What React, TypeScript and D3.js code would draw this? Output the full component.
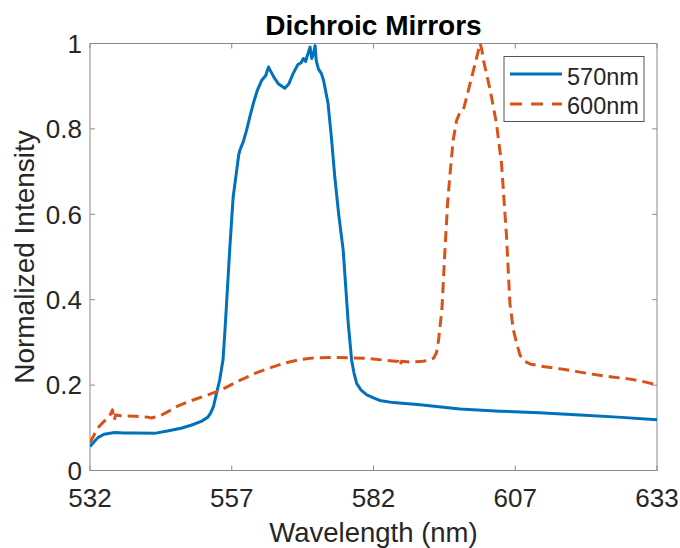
import React from "react";
import * as d3 from "d3";

// wavelength (nm) and normalized intensity
const blueWl = [532, 533.4, 534.5, 536.4, 538, 540, 543.5, 546, 548.2, 550, 551.8, 553, 553.5, 554, 554.4, 555.1, 555.7, 556.05, 556.5, 556.9, 557.5, 558.1, 558.5, 558.7, 559.3, 559.9, 560.5, 561.1, 561.8, 562.3, 562.6, 563.3, 563.8, 564.1, 564.8, 565.6, 566.7, 567.4, 568.2, 569, 569.6, 570, 570.4, 570.8, 571.2, 571.5, 571.8, 572.1, 572.3, 572.7, 573.2, 573.6, 574.4, 575, 575.6, 576.3, 577.1, 578, 578.6, 579, 579.5, 580.3, 581.3, 582.5, 583.6, 586, 590.8, 597.9, 605, 612, 619.3, 626, 633];
const blueVal = [0.056, 0.077, 0.085, 0.089, 0.088, 0.088, 0.087, 0.093, 0.099, 0.106, 0.115, 0.125, 0.135, 0.15, 0.173, 0.212, 0.26, 0.33, 0.43, 0.52, 0.64, 0.7, 0.74, 0.75, 0.77, 0.797, 0.83, 0.86, 0.89, 0.905, 0.914, 0.925, 0.945, 0.937, 0.92, 0.905, 0.895, 0.905, 0.93, 0.95, 0.955, 0.965, 0.958, 0.975, 0.992, 0.965, 0.975, 0.995, 0.96, 0.94, 0.93, 0.914, 0.86, 0.78, 0.688, 0.6, 0.516, 0.345, 0.259, 0.23, 0.204, 0.188, 0.177, 0.17, 0.164, 0.159, 0.154, 0.144, 0.139, 0.135, 0.13, 0.125, 0.119];

const orangeWl = [532, 533.4, 534.5, 535.5, 536, 536.3, 536.6, 537.5, 540, 542.3, 542.9, 544.5, 545.9, 547.5, 549.5, 551, 553, 555, 556.6, 558, 559.5, 561.5, 563.5, 566.5, 569.4, 572, 575.3, 578, 581.3, 584, 586.9, 587.2, 587.5, 589, 590.8, 592.3, 593.2, 593.7, 594.1, 594.7, 595.2, 595.7, 596.1, 596.7, 597.3, 597.8, 598.5, 599.4, 600.3, 601.2, 601.5, 601.8, 602.1, 603.3, 604.4, 605.3, 606.2, 606.8, 607.4, 608, 608.6, 609.5, 610.5, 613, 616.3, 619, 622.2, 625, 628.2, 631, 633];
const orangeVal = [0.065, 0.1, 0.115, 0.128, 0.142, 0.118, 0.13, 0.128, 0.127, 0.125, 0.123, 0.128, 0.138, 0.15, 0.161, 0.168, 0.177, 0.187, 0.197, 0.207, 0.216, 0.228, 0.238, 0.251, 0.26, 0.264, 0.265, 0.264, 0.263, 0.259, 0.255, 0.245, 0.256, 0.254, 0.255, 0.258, 0.263, 0.275, 0.306, 0.38, 0.509, 0.626, 0.69, 0.774, 0.82, 0.835, 0.844, 0.89, 0.937, 0.984, 1.0, 0.985, 0.96, 0.89, 0.813, 0.72, 0.547, 0.392, 0.33, 0.298, 0.27, 0.255, 0.249, 0.243, 0.237, 0.231, 0.224, 0.219, 0.214, 0.207, 0.2];

const xTickValues = [532, 557.25, 582.5, 607.75, 633];
const xTickLabels = ["532", "557", "582", "607", "633"];
const yTickValues = [0, 0.2, 0.4, 0.6, 0.8, 1];
const yTickLabels = ["0", "0.2", "0.4", "0.6", "0.8", "1"];

const seriesNames = ["570nm", "600nm"];
const seriesColors = ["#0072BD", "#D95319"];

const W = 680;
const H = 548;
const margin = { top: 43.5, right: 23, bottom: 77.5, left: 90 };
const font = "'Liberation Sans', Arial, Helvetica, sans-serif";

export default function App() {
  const x = d3.scaleLinear().domain([532, 633]).range([margin.left, W - margin.right]);
  const y = d3.scaleLinear().domain([0, 1]).range([H - margin.bottom, margin.top]);

  const line = d3
    .line<[number, number]>()
    .x((d) => x(d[0]))
    .y((d) => y(d[1]));

  const blue = blueWl.map((w, i) => [w, blueVal[i]] as [number, number]);
  const orange = orangeWl.map((w, i) => [w, orangeVal[i]] as [number, number]);

  const x0 = margin.left;
  const x1 = W - margin.right;
  const y0 = H - margin.bottom;
  const y1 = margin.top;
  const tick = 5;
  const axisColor = "#8a8a8a";
  const textColor = "#262626";

  return (
    <svg
      width={W}
      height={H}
      style={{ position: "fixed", left: 0, top: 0, background: "#fff" }}
      fontFamily={font}
    >
      <defs>
        <clipPath id="plot">
          <rect x={x0} y={y1 - 2} width={x1 - x0} height={y0 - y1 + 2} />
        </clipPath>
      </defs>

      {/* box */}
      <rect x={x0} y={y1} width={x1 - x0} height={y0 - y1} fill="none" stroke={axisColor} strokeWidth={1} />

      {/* x ticks */}
      {xTickValues.map((t, i) => (
        <g key={"xt" + i}>
          <line x1={x(t)} x2={x(t)} y1={y0} y2={y0 - tick} stroke={axisColor} />
          <line x1={x(t)} x2={x(t)} y1={y1} y2={y1 + tick} stroke={axisColor} />
          <text x={x(t)} y={507} textAnchor="middle" fontSize={26} fill={textColor}>
            {xTickLabels[i]}
          </text>
        </g>
      ))}

      {/* y ticks */}
      {yTickValues.map((t, i) => (
        <g key={"yt" + i}>
          <line x1={x0} x2={x0 + tick} y1={y(t)} y2={y(t)} stroke={axisColor} />
          <line x1={x1} x2={x1 - tick} y1={y(t)} y2={y(t)} stroke={axisColor} />
          <text x={82} y={y(t)} dy="0.36em" textAnchor="end" fontSize={26} fill={textColor}>
            {yTickLabels[i]}
          </text>
        </g>
      ))}

      {/* data */}
      <g clipPath="url(#plot)">
        <path d={line(blue) || ""} fill="none" stroke={seriesColors[0]} strokeWidth={3} strokeLinejoin="round" />
        <path
          d={line(orange) || ""}
          fill="none"
          stroke={seriesColors[1]}
          strokeWidth={3}
          strokeDasharray="11,6"
          strokeLinejoin="round"
        />
      </g>

      {/* labels */}
      <text x={(x0 + x1) / 2} y={35} textAnchor="middle" fontSize={28} fontWeight="bold" fill="#000">
        Dichroic Mirrors
      </text>
      <text x={(x0 + x1) / 2} y={542} textAnchor="middle" fontSize={27.5} fill={textColor}>
        Wavelength (nm)
      </text>
      <text
        transform={`translate(34, ${(y0 + y1) / 2}) rotate(-90)`}
        textAnchor="middle"
        fontSize={28}
        fill={textColor}
      >
        Normalized Intensity
      </text>

      {/* legend */}
      <g>
        <rect x={504} y={56.5} width={140} height={65} fill="#fff" stroke="#555" strokeWidth={1} />
        {seriesNames.map((name, i) => (
          <g key={name}>
            <line
              x1={510}
              x2={562}
              y1={74 + i * 30}
              y2={74 + i * 30}
              stroke={seriesColors[i]}
              strokeWidth={3}
              strokeDasharray={i === 1 ? "12,9" : undefined}
            />
            <text x={567} y={85 + i * 28.5} fontSize={23.5} fill={textColor}>
              {name}
            </text>
          </g>
        ))}
      </g>
    </svg>
  );
}
